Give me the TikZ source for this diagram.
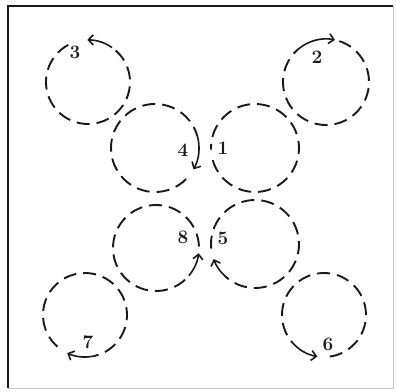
\documentclass[tikz,border=0pt]{standalone}
\usepackage{tikz}
\usetikzlibrary{arrows.meta}
\definecolor{pathink}{HTML}{1A1A1A}
\definecolor{faintedge}{HTML}{C8C8C8}
\tikzset{
  pathdash/.style={draw=pathink, line width=1.9pt, dash pattern=on 13pt off 7pt},
  pathhead/.style={draw=pathink, line width=1.6pt, -{Straight Barb[length=5pt,width=10pt]}},
  framestrong/.style={draw=pathink, line width=2.2pt},
  frameweak/.style={draw=faintedge, line width=0.8pt},
  stepnum/.style={font=\fontsize{19}{21}\selectfont\bfseries, text=pathink, inner sep=0pt}
}

\begin{document}
\begin{tikzpicture}[x=1pt, y=1pt]
    \useasboundingbox (0,0) rectangle (396,391);
    \draw[framestrong] (8,3) -- (8,385) -- (393,385);
    \draw[frameweak] (393,385) -- (393,3) -- (8,3);

    \coordinate (c1) at (255,243);
    \coordinate (c2) at (326,309);
    \coordinate (c3) at (88,309);
    \coordinate (c4) at (155,243);
    \coordinate (c5) at (255,147);
    \coordinate (c6) at (324,76);
    \coordinate (c7) at (85,76);
    \coordinate (c8) at (156,143);

    \draw[pathdash] (c1) ++(196:44) arc[start angle=196, end angle=542, radius=44];

    \draw[pathdash] (c2) ++(72:43) arc[start angle=72, end angle=-230, radius=43];
    \draw[pathhead] (c2) ++(-230:43) arc[start angle=-230, end angle=-282, radius=43];

    \draw[pathdash] (c3) ++(118:42) arc[start angle=118, end angle=415, radius=42];
    \draw[pathhead] (c3) ++(415:42) arc[start angle=415, end angle=451, radius=42];

    \draw[pathdash] (c4) ++(-45:44) arc[start angle=-45, end angle=-344, radius=44];
    \draw[pathhead] (c4) ++(-344:44) arc[start angle=-344, end angle=-389, radius=44];

    \draw[pathdash] (c5) ++(186:44) arc[start angle=186, end angle=-132, radius=44];
    \draw[pathhead] (c5) ++(-132:44) arc[start angle=-132, end angle=-160, radius=44];

    \draw[pathdash] (c6) ++(278:42) arc[start angle=278, end angle=581, radius=42];
    \draw[pathhead] (c6) ++(581:42) arc[start angle=581, end angle=621, radius=42];

    \draw[pathdash] (c7) ++(229:42) arc[start angle=229, end angle=-78, radius=42];
    \draw[pathhead] (c7) ++(-78:42) arc[start angle=-78, end angle=-115, radius=42];

    \draw[pathdash] (c8) ++(2:43) arc[start angle=2, end angle=320, radius=43];
    \draw[pathhead] (c8) ++(320:43) arc[start angle=320, end angle=353, radius=43];

    \node[stepnum] (n1) at (223,243) {1};
    \node[stepnum] (n2) at (317,334) {2};
    \node[stepnum] (n3) at (75,339) {3};
    \node[stepnum] (n4) at (183,241) {4};
    \node[stepnum] (n5) at (223,153) {5};
    \node[stepnum] (n6) at (328,47) {6};
    \node[stepnum] (n7) at (88,49) {7};
    \node[stepnum] (n8) at (183,154) {8};
\end{tikzpicture}
\end{document}
